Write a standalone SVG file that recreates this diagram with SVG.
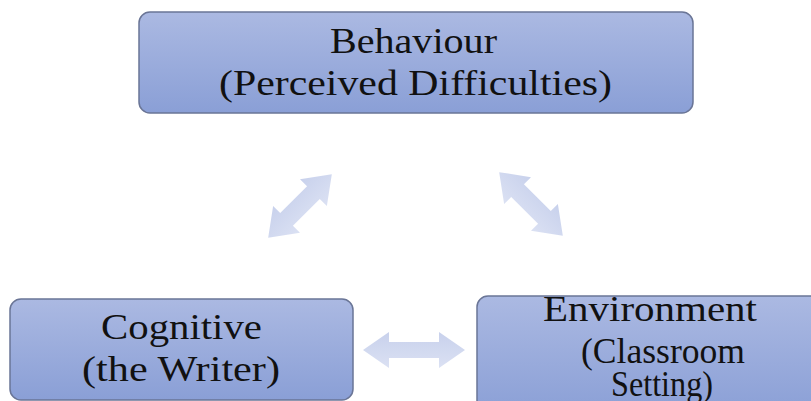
<svg xmlns="http://www.w3.org/2000/svg" width="811" height="401" viewBox="0 0 811 401">
  <defs>
    <linearGradient id="boxFill" x1="0" y1="0" x2="0" y2="1">
      <stop offset="0" stop-color="#abb9e2"/>
      <stop offset="1" stop-color="#8a9fd6"/>
    </linearGradient>
    <linearGradient id="arrowFill" x1="0" y1="0" x2="0" y2="1">
      <stop offset="0" stop-color="#c8d1ec"/>
      <stop offset="1" stop-color="#dbe1f3"/>
    </linearGradient>
    <path id="dblArrow" d="M-45,0 L-19,-19 L-19,-9 L19,-9 L19,-19 L45,0 L19,19 L19,9 L-19,9 L-19,19 Z"/>
  </defs>
  <style>
    .box { fill: url(#boxFill); stroke: #6a7596; stroke-width: 1.5; }
    .lbl { font-family: "Liberation Serif", "Times New Roman", serif; font-size: 35px; fill: #111111; }
    .arr { fill: url(#arrowFill); stroke: none; }
  </style>
  <rect width="811" height="401" fill="#ffffff"/>

  <g id="connectors">
    <use href="#dblArrow" class="arr" transform="translate(300,206) rotate(-45)"/>
    <use href="#dblArrow" class="arr" transform="translate(531,204) rotate(45)"/>
    <path class="arr" d="M363,350 L389,332 L389,342 L439,342 L439,332 L465,350 L439,368 L439,358 L389,358 L389,368 Z"/>
  </g>

  <g id="behaviour">
    <rect class="box" x="139" y="12" width="554" height="101" rx="11"/>
    <text class="lbl" x="330" y="53" textLength="167" lengthAdjust="spacingAndGlyphs">Behaviour</text>
    <text class="lbl" x="219" y="95" textLength="393" lengthAdjust="spacingAndGlyphs">(Perceived Difficulties)</text>
  </g>

  <g id="cognitive">
    <rect class="box" x="10" y="299" width="343" height="101" rx="11"/>
    <text class="lbl" x="101" y="339" textLength="161" lengthAdjust="spacingAndGlyphs">Cognitive</text>
    <text class="lbl" x="82" y="381" textLength="198" lengthAdjust="spacingAndGlyphs">(the Writer)</text>
  </g>

  <g id="environment">
    <rect class="box" x="477" y="296" width="350" height="120" rx="11"/>
    <text class="lbl" x="543" y="321" textLength="214" lengthAdjust="spacingAndGlyphs">Environment</text>
    <text class="lbl" x="581" y="363" textLength="164" lengthAdjust="spacingAndGlyphs">(Classroom</text>
    <text class="lbl" x="611" y="396" textLength="102" lengthAdjust="spacingAndGlyphs">Setting)</text>
  </g>
</svg>
